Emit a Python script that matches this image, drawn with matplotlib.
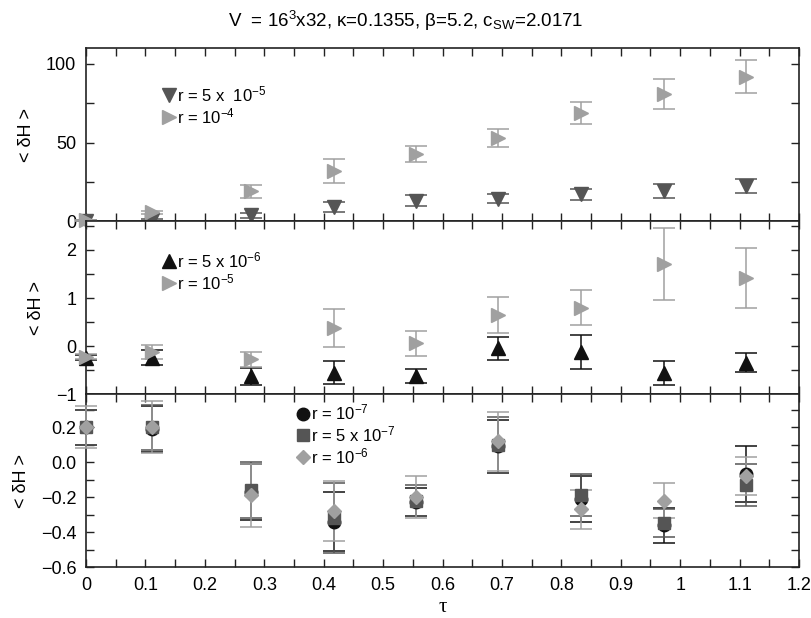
import matplotlib.pyplot as plt
from matplotlib.ticker import MultipleLocator

plt.rcParams['font.family'] = ['Liberation Sans', 'DejaVu Sans']
plt.rcParams['mathtext.default'] = 'regular'

# trajectory lengths
tau = [0.0, 0.111, 0.278, 0.417, 0.556, 0.694, 0.833, 0.972, 1.111]

# top panel
dh_5e5 = [0.3, 0.8, 3.8, 9.0, 12.9, 14.4, 17.0, 19.2, 22.2]
err_5e5 = [0.5, 0.8, 1.5, 3.0, 3.5, 3.0, 3.5, 4.5, 4.5]
dh_1e4 = [0.5, 5.5, 19.0, 31.7, 42.9, 52.9, 68.9, 81.0, 92.0]
err_1e4 = [0.5, 1.0, 4.0, 7.7, 5.0, 5.7, 7.0, 9.5, 10.3]

# middle panel
dh_5e6 = [-0.24, -0.24, -0.63, -0.56, -0.62, -0.05, -0.13, -0.57, -0.35]
err_5e6 = [0.05, 0.15, 0.18, 0.24, 0.15, 0.24, 0.35, 0.25, 0.20]
dh_1e5 = [-0.22, -0.12, -0.28, 0.38, 0.06, 0.65, 0.80, 1.70, 1.42]
err_1e5 = [0.05, 0.15, 0.15, 0.39, 0.26, 0.38, 0.37, 0.75, 0.63]

# bottom panel
dh_1e7 = [0.20, 0.19, -0.17, -0.34, -0.23, 0.09, -0.21, -0.36, -0.07]
err_1e7 = [0.10, 0.13, 0.16, 0.17, 0.08, 0.15, 0.13, 0.10, 0.16]
dh_5e7 = [0.20, 0.20, -0.16, -0.32, -0.22, 0.10, -0.19, -0.35, -0.13]
err_5e7 = [0.10, 0.13, 0.16, 0.20, 0.09, 0.16, 0.12, 0.08, 0.12]
dh_1e6 = [0.20, 0.20, -0.19, -0.28, -0.20, 0.12, -0.27, -0.22, -0.08]
err_1e6 = [0.12, 0.15, 0.18, 0.17, 0.12, 0.17, 0.11, 0.10, 0.11]

labels_top = [r'r = 5 x  10$^{-5}$', r'r = 10$^{-4}$']
labels_mid = [r'r = 5 x 10$^{-6}$', r'r = 10$^{-5}$']
labels_bot = [r'r = 10$^{-7}$', r'r = 5 x 10$^{-7}$', r'r = 10$^{-6}$']

black = '#111111'
dark = '#555555'
light = '#a0a0a0'

fig, axes = plt.subplots(3, 1, sharex=True, figsize=(8.12, 6.18), dpi=100)
fig.subplots_adjust(left=0.106, right=0.984, top=0.922, bottom=0.0825, hspace=0)
ax1, ax2, ax3 = axes


def series(ax, y, e, color, marker, ms):
    c = ax.errorbar(tau, y, yerr=e, fmt=marker, color=color, ecolor=color,
                    ms=ms, capsize=8, elinewidth=1.1, capthick=1.1, mec=color,
                    clip_on=False, zorder=3)
    return c[0]


def add_legend(ax, handles, labels, anchor):
    ax.legend(handles, labels, loc='upper left', bbox_to_anchor=anchor,
              frameon=False, handlelength=0.6, handletextpad=0.2,
              labelspacing=0.12, borderaxespad=0, fontsize=12)


h1 = series(ax1, dh_5e5, err_5e5, dark, 'v', 10)
h2 = series(ax1, dh_1e4, err_1e4, light, '>', 10)
add_legend(ax1, [h1, h2], labels_top, (0.1, 0.83))

h3 = series(ax2, dh_5e6, err_5e6, black, '^', 10)
h4 = series(ax2, dh_1e5, err_1e5, light, '>', 10)
add_legend(ax2, [h3, h4], labels_mid, (0.1, 0.87))

h5 = series(ax3, dh_1e7, err_1e7, black, 'o', 9)
h6 = series(ax3, dh_5e7, err_5e7, dark, 's', 8)
h7 = series(ax3, dh_1e6, err_1e6, light, 'D', 7.5)
add_legend(ax3, [h5, h6, h7], labels_bot, (0.288, 0.99))

ax1.set_ylim(0, 110)
ax1.yaxis.set_major_locator(MultipleLocator(50))
ax1.yaxis.set_minor_locator(MultipleLocator(25))

ax2.set_ylim(-1, 2.6)
ax2.yaxis.set_major_locator(MultipleLocator(1))
ax2.yaxis.set_minor_locator(MultipleLocator(0.5))

ax3.set_ylim(-0.6, 0.39)
ax3.yaxis.set_major_locator(MultipleLocator(0.2))
ax3.yaxis.set_minor_locator(MultipleLocator(0.1))

ax3.set_xlim(0, 1.2)
ax3.xaxis.set_minor_locator(MultipleLocator(0.05))
ax3.set_xticks([0, 0.1, 0.2, 0.3, 0.4, 0.5, 0.6, 0.7, 0.8, 0.9, 1, 1.1, 1.2])
ax3.set_xticklabels(['0', '0.1', '0.2', '0.3', '0.4', '0.5', '0.6', '0.7',
                     '0.8', '0.9', '1', '1.1', '1.2'])

for ax in axes:
    ax.tick_params(which='both', direction='in', top=True, right=True,
                   labelsize=13, color='#222222', pad=7)
    ax.tick_params(which='major', length=6, width=1)
    ax.tick_params(which='minor', length=6, width=1)
    ax.set_ylabel('< δH >', fontsize=13, labelpad=8)
    for s in ax.spines.values():
        s.set_color('#222222')
        s.set_linewidth(1.2)

ax3.set_xlabel('τ', fontsize=15, family=['Liberation Serif', 'DejaVu Serif'],
               labelpad=3)
fig.suptitle(r'V  = 16$^3$x32, κ=0.1355, β=5.2, c$_{SW}$=2.0171',
             fontsize=13.5, y=0.985)

plt.savefig('out.png', dpi=100)
